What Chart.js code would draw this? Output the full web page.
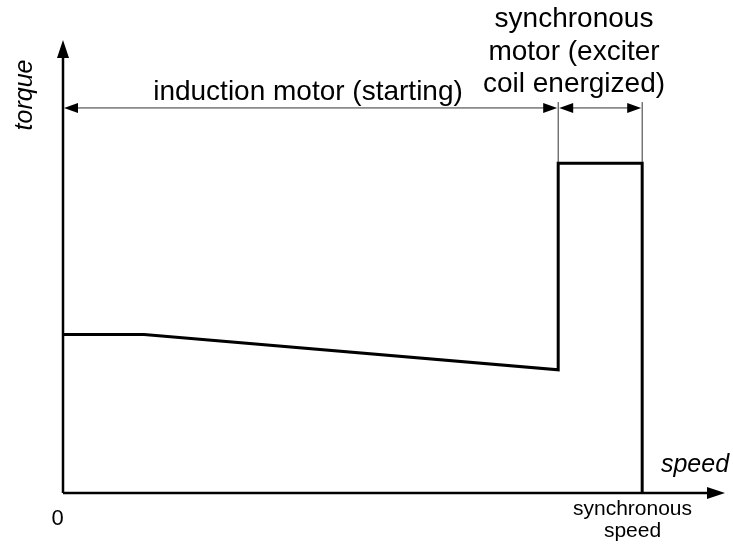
<!DOCTYPE html>
<html>
<head>
<meta charset="utf-8">
<script src="https://cdn.jsdelivr.net/npm/chart.js@4"></script>
<style>
  html, body { margin: 0; padding: 0; background: #fff; }
  #wrap { width: 733px; height: 544px; }
</style>
</head>
<body>
<div id="wrap"><canvas id="chart"></canvas></div>
<script>
// Torque vs speed for a synchronous motor started as an induction motor.
const speed  = [0, 14, 85.5, 85.5, 100, 100];
const torque = [35, 35, 27.2, 72.8, 72.8, 0];

// Region boundaries along the speed axis and where the dimension line sits.
const regionEdges = [0, 85.5, 100];
const dimLevel    = 85;
const extTop      = 86.3;

const axisMaxX = 114.3;
const axisMaxY = 100;

const FONT = '"Liberation Sans", Arial, sans-serif';

function arrowHead(ctx, x, y, dir, len, half) {
  // dir: 'left' | 'right' | 'up'
  ctx.beginPath();
  if (dir === 'right') { ctx.moveTo(x, y); ctx.lineTo(x - len, y - half); ctx.lineTo(x - len, y + half); }
  else if (dir === 'left') { ctx.moveTo(x, y); ctx.lineTo(x + len, y - half); ctx.lineTo(x + len, y + half); }
  else { ctx.moveTo(x, y); ctx.lineTo(x - half, y + len); ctx.lineTo(x + half, y + len); }
  ctx.closePath();
  ctx.fill();
}

const diagram = {
  id: 'diagram',
  beforeDatasetsDraw(chart) {
    const { ctx, scales: { x, y } } = chart;
    const x0 = x.getPixelForValue(0), y0 = y.getPixelForValue(0);
    const xEnd = x.getPixelForValue(axisMaxX), yEnd = y.getPixelForValue(axisMaxY);
    ctx.save();
    ctx.strokeStyle = '#000';
    ctx.fillStyle = '#000';
    ctx.lineWidth = 2.5;
    ctx.beginPath();
    ctx.moveTo(x0, y0); ctx.lineTo(xEnd - 14, y0);
    ctx.moveTo(x0, y0); ctx.lineTo(x0, yEnd + 14);
    ctx.stroke();
    arrowHead(ctx, xEnd, y0, 'right', 18, 6);
    arrowHead(ctx, x0, yEnd, 'up', 18, 6);

    // dimension lines with extension lines
    const dy = y.getPixelForValue(dimLevel);
    ctx.lineWidth = 1;
    ctx.strokeStyle = '#333';
    ctx.fillStyle = '#000';
    regionEdges.slice(1).forEach(function (v) {
      const px = x.getPixelForValue(v);
      ctx.beginPath();
      ctx.moveTo(px, y.getPixelForValue(extTop));
      ctx.lineTo(px, y.getPixelForValue(72.8));
      ctx.stroke();
    });
    for (let i = 0; i < regionEdges.length - 1; i++) {
      const a = x.getPixelForValue(regionEdges[i]) + 1;
      const b = x.getPixelForValue(regionEdges[i + 1]) - 1;
      ctx.beginPath();
      ctx.moveTo(a + 10, dy); ctx.lineTo(b - 10, dy);
      ctx.stroke();
      arrowHead(ctx, a, dy, 'left', 14, 5);
      arrowHead(ctx, b, dy, 'right', 14, 5);
    }

    // labels
    ctx.fillStyle = '#000';
    ctx.textAlign = 'center';
    ctx.textBaseline = 'alphabetic';
    ctx.font = '28px ' + FONT;
    ctx.fillText('induction motor (starting)', 308, 100);
    ['synchronous', 'motor (exciter', 'coil energized)'].forEach(function (t, i) {
      ctx.fillText(t, 574, 27 + i * 32.5);
    });

    ctx.font = 'italic 25px ' + FONT;
    ctx.fillText('speed', 695, 472);
    ctx.save();
    ctx.translate(32, 95);
    ctx.rotate(-Math.PI / 2);
    ctx.fillText('torque', 0, 0);
    ctx.restore();

    ctx.font = '22px ' + FONT;
    ctx.fillText('0', 57.5, 525);
    ctx.font = '21px ' + FONT;
    ctx.fillText('synchronous', 632.5, 515);
    ctx.fillText('speed', 632.5, 537);
    ctx.restore();
  }
};

new Chart(document.getElementById('chart'), {
  type: 'scatter',
  data: {
    datasets: [{
      data: speed.map(function (s, i) { return { x: s, y: torque[i] }; }),
      showLine: true,
      borderColor: '#000',
      borderWidth: 3,
      pointRadius: 0,
      tension: 0,
      borderJoinStyle: 'miter'
    }]
  },
  options: {
    responsive: true,
    maintainAspectRatio: false,
    animation: false,
    layout: { padding: { left: 63, right: 8, top: 40, bottom: 51 } },
    scales: {
      x: { type: 'linear', min: 0, max: axisMaxX, display: false },
      y: { type: 'linear', min: 0, max: axisMaxY, display: false }
    },
    plugins: { legend: { display: false }, tooltip: { enabled: false } }
  },
  plugins: [diagram]
});
</script>
</body>
</html>
